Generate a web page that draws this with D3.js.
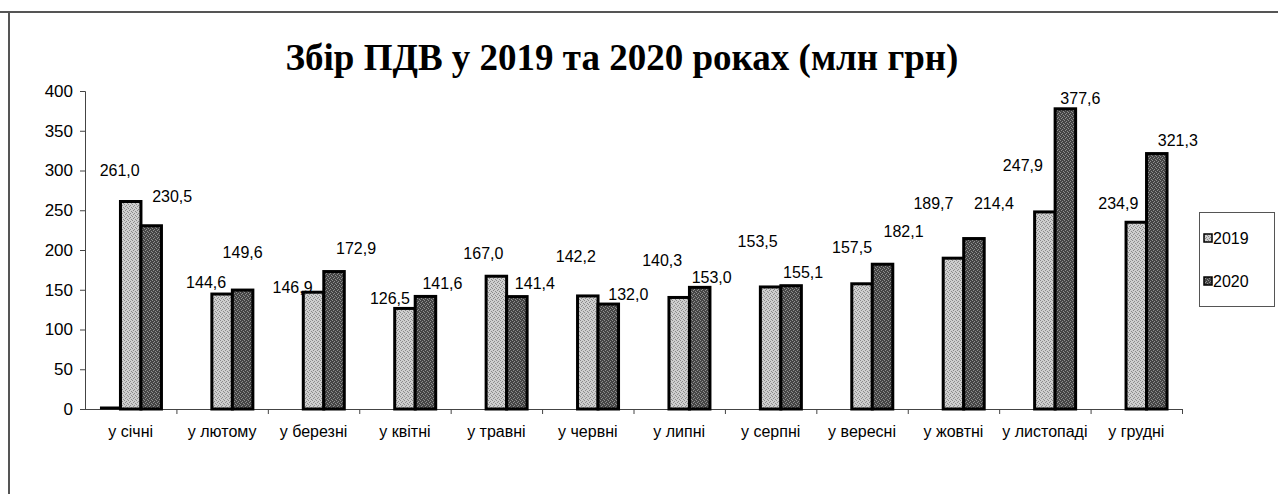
<!DOCTYPE html>
<html>
<head>
<meta charset="utf-8">
<script src="https://cdn.jsdelivr.net/npm/d3@7"></script>
<style>
  html, body { margin: 0; padding: 0; background: #fff; }
  svg { display: block; }
  text { font-family: "Liberation Sans", Arial, sans-serif; fill: #000; }
</style>
</head>
<body>
<div id="chart"></div>
<script>
// Data ----------------------------------------------
const months = ["у січні", "у лютому", "у березні", "у квітні", "у травні", "у червні",
  "у липні", "у серпні", "у вересні", "у жовтні", "у листопаді", "у грудні"];
const values2019 = [261.0, 144.6, 146.9, 126.5, 167.0, 142.2, 140.3, 153.5, 157.5, 189.7, 247.9, 234.9];
const values2020 = [230.5, 149.6, 172.9, 141.6, 141.4, 132.0, 153.0, 155.1, 182.1, 214.4, 377.6, 321.3];
// an empty first series in the source chart (only January shows it, as a flat bar at 0)
const valuesBlank = [0, null, null, null, null, null, null, null, null, null, null, null];
const seriesNames = ["2019", "2020"];
const yTicks = [0, 50, 100, 150, 200, 250, 300, 350, 400];

// Label nudges (px, relative to bar top centre), labels were moved by hand in the source
const labelShift2019 = [[-11, -31], [-16, -12], [-21, -5], [-15, -10], [-13, -23], [-12, -40],
  [-17, -37], [-13, -46], [-10, -37], [-20, -55], [-22, -47], [-18, -19]];
const labelShift2020 = [[21, -30], [0, -38], [22, -23], [17, -13], [18, -13], [20, -10],
  [12, -10], [12, -13], [21, -33], [20, -35], [15, -11], [21, -13]];

// Constants ----------------------------------------------
const width = 1278;
const height = 494;
const margin = {left: 85, right: 96, top: 91, bottom: 85};
const fontSize = 16;

const svg = d3.select("#chart")
  .append("svg")
  .attr("width", width)
  .attr("height", height);

// dithered fills, like the printed original
const defs = svg.append("defs");
function ditherPattern(id, base, dot) {
  const p = defs.append("pattern")
    .attr("id", id)
    .attr("width", 4)
    .attr("height", 4)
    .attr("patternUnits", "userSpaceOnUse");
  p.append("rect").attr("width", 4).attr("height", 4).attr("fill", base);
  [[0, 0], [2, 1], [1, 2], [3, 3]].forEach(([x, y]) =>
    p.append("rect").attr("x", x).attr("y", y).attr("width", 1).attr("height", 1).attr("fill", dot));
}
ditherPattern("fill2019", "#cfcfcf", "#8a8a8a");
ditherPattern("fill2020", "#454545", "#8f8f8f");
const fills = ["url(#fill2019)", "url(#fill2020)"];

// Frame of the chart area (top and left edges show in the scan)
svg.append("path")
  .attr("d", `M0,12 H${width} M9,12 V${height}`)
  .attr("fill", "none")
  .attr("stroke", "#555")
  .attr("stroke-width", 2)
  .attr("shape-rendering", "crispEdges");

// Title
svg.append("text")
  .attr("x", 622)
  .attr("y", 70)
  .attr("text-anchor", "middle")
  .style("font-family", "'Liberation Serif', 'Times New Roman', serif")
  .style("font-weight", "bold")
  .style("font-size", "37px")
  .text("Збір ПДВ у 2019 та 2020 роках (млн грн)");

// Scale functions ----------------------------------------------
const xScale = d3.scaleBand()
  .domain(months)
  .range([margin.left, width - margin.right])
  .paddingInner(0)
  .paddingOuter(0);

const groupScale = d3.scaleBand()
  .domain(["blank", "2019", "2020"])
  .range([0, xScale.bandwidth()])
  .paddingOuter(0.73)
  .paddingInner(0);

const yScale = d3.scaleLinear()
  .domain([0, 400])
  .range([height - margin.bottom, margin.top]);

// Axes ----------------------------------------------
const yAxis = svg.append("g")
  .attr("transform", `translate(${margin.left},0)`)
  .call(d3.axisLeft(yScale).tickValues(yTicks).tickSize(5).tickPadding(7).tickFormat(d3.format("d")));
yAxis.select(".domain").attr("stroke", "#444");
yAxis.selectAll(".tick line").attr("stroke", "#444");
yAxis.selectAll("text").style("font-size", "17px").attr("fill", "#000");

// x axis: line with ticks between categories
const xAxis = svg.append("g");
xAxis.append("line")
  .attr("x1", margin.left).attr("x2", width - margin.right)
  .attr("y1", yScale(0) + 0.5).attr("y2", yScale(0) + 0.5)
  .attr("stroke", "#444");
xAxis.selectAll("line.sep")
  .data(months)
  .enter()
  .append("line")
  .attr("class", "sep")
  .attr("x1", d => xScale(d) + xScale.bandwidth() + 0.5)
  .attr("x2", d => xScale(d) + xScale.bandwidth() + 0.5)
  .attr("y1", yScale(0))
  .attr("y2", yScale(0) + 5)
  .attr("stroke", "#444");
xAxis.selectAll("text")
  .data(months)
  .enter()
  .append("text")
  .attr("x", d => xScale(d) + xScale.bandwidth() / 2)
  .attr("y", yScale(0) + 28)
  .attr("text-anchor", "middle")
  .style("font-size", fontSize + "px")
  .text(d => d);

// Bars ----------------------------------------------
const seriesValues = [values2019, values2020];

// flat blank bar
svg.append("g")
  .selectAll("line")
  .data(months.map((m, i) => ({m, v: valuesBlank[i]})).filter(d => d.v !== null))
  .enter()
  .append("line")
  .attr("x1", d => xScale(d.m) + groupScale("blank"))
  .attr("x2", d => xScale(d.m) + groupScale("blank") + groupScale.bandwidth())
  .attr("y1", d => yScale(d.v) - 1)
  .attr("y2", d => yScale(d.v) - 1)
  .attr("stroke", "#000")
  .attr("stroke-width", 3);

seriesNames.forEach((name, s) => {
  const data = months.map((m, i) => ({m, v: seriesValues[s][i], i}));
  const g = svg.append("g");
  g.selectAll("rect")
    .data(data)
    .enter()
    .append("rect")
    .attr("x", d => xScale(d.m) + groupScale(name))
    .attr("y", d => yScale(d.v))
    .attr("width", groupScale.bandwidth())
    .attr("height", d => yScale(0) - yScale(d.v))
    .attr("fill", fills[s])
    .attr("stroke", "#000")
    .attr("stroke-width", 3);

  const shifts = s === 0 ? labelShift2019 : labelShift2020;
  g.selectAll("text")
    .data(data)
    .enter()
    .append("text")
    .attr("x", d => xScale(d.m) + groupScale(name) + groupScale.bandwidth() / 2 + shifts[d.i][0])
    .attr("y", d => yScale(d.v) + shifts[d.i][1])
    .attr("dy", "0.36em")
    .attr("text-anchor", "middle")
    .style("font-size", fontSize + "px")
    .text(d => d3.format(".1f")(d.v).replace(".", ","));
});

// Legend ----------------------------------------------
const legend = svg.append("g");
legend.append("rect")
  .attr("x", 1199.5).attr("y", 212.5)
  .attr("width", 75).attr("height", 94)
  .attr("fill", "#fff")
  .attr("stroke", "#555");
seriesNames.forEach((name, s) => {
  const cy = 238 + s * 43;
  legend.append("rect")
    .attr("x", 1204).attr("y", cy - 4)
    .attr("width", 8).attr("height", 8)
    .attr("fill", fills[s])
    .attr("stroke", "#000")
    .attr("stroke-width", 1.5);
  legend.append("text")
    .attr("x", 1213).attr("y", cy)
    .attr("dy", "0.36em")
    .style("font-size", fontSize + "px")
    .text(name);
});
</script>
</body>
</html>
